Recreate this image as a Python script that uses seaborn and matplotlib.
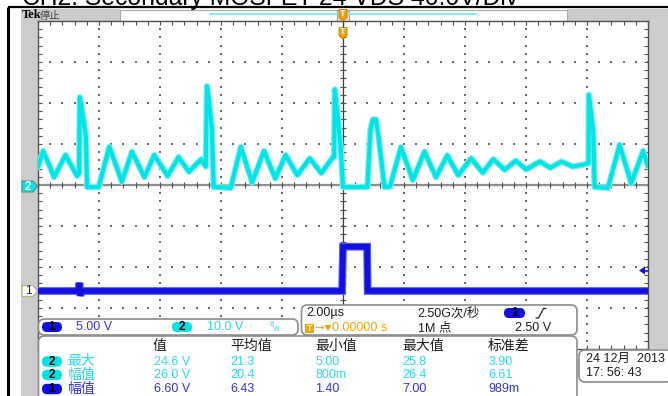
import numpy as np
import pandas as pd
import matplotlib
matplotlib.use('Agg')
import matplotlib.pyplot as plt
import seaborn as sns
from matplotlib.patches import FancyBboxPatch, Rectangle, Polygon

# ---------------- data ----------------
ch2_time_us = [-10.0, -9.83, -9.47, -9.10, -8.72, -8.65, -8.63, -8.58, -8.43, -8.39, -8.01,
               -7.66, -7.25, -6.92, -6.51, -6.19, -5.75, -5.39, -5.05, -4.65, -4.50, -4.46,
               -4.40, -4.30, -4.24, -3.68, -3.35, -2.98, -2.59, -2.22, -1.88, -1.50, -1.09,
               -0.71, -0.33, -0.29, -0.27, -0.16, -0.07, 0.0, 0.80, 0.90, 0.98, 1.08, 1.16,
               1.36, 1.54, 1.90, 2.29, 2.67, 3.05, 3.42, 3.78, 4.20, 4.58, 4.93, 5.30, 5.66,
               6.01, 6.45, 6.80, 7.16, 7.54, 7.98, 8.05, 8.06, 8.20, 8.25, 8.69, 9.07, 9.45,
               9.84, 10.0]
ch2_volts = [4.4, 8.3, 1.9, 7.3, 2.2, 2.9, 21.4, 19.5, 11.8, -0.5, -0.5,
             9.3, 0.8, 8.1, 1.9, 7.3, 2.2, 6.8, 3.2, 6.3, 4.5, 24.1,
             21.0, 14.0, -0.5, -0.7, 9.3, 0.6, 8.3, 1.6, 7.3, 2.4, 6.5,
             2.9, 6.8, 6.8, 23.3, 15.9, 8.5, -0.5, -0.5, 13.5, 16.0, 16.0, 12.0,
             -0.5, -0.4, 9.2, 1.2, 8.1, 1.9, 7.2, 2.4, 6.5, 3.0, 6.3, 3.7, 5.9,
             3.8, 5.7, 4.2, 5.7, 4.5, 5.1, 5.3, 22.0, 13.4, -0.5, -0.7, 9.8, 0.4,
             8.3, 4.5]

ch1_time_us = [-10.0, -8.68, -8.64, -8.61, -8.58, -0.03, 0.0, 0.79, 0.81, 10.0]
ch1_volts = [0.0, 0.0, 1.0, -0.6, 0.0, 0.0, 5.4, 5.4, 0.0, 0.0]

ch1_volts_per_div = 5.0
ch2_volts_per_div = 10.0

chan_labels = ['5.00 V', '10.0 V']
horiz_labels = ['2.00\u00b5s', '2.50G次/秒', '\u21920.00000 s', '1M 点', '2.50 V']
meas_headers = ['值', '平均值', '最小值', '最大值', '标准差']
meas_channels = ['2', '2', '1']
meas_names = ['最大', '幅值', '幅值']
meas_value = ['24.6 V', '26.0 V', '6.60 V']
meas_mean = ['21.3', '20.4', '6.43']
meas_min = ['5.00', '800m', '1.40']
meas_max = ['25.8', '26.4', '7.00']
meas_std = ['3.90', '6.61', '989m']
date_lines = ['24 12月  2013', '17: 56: 43']
title_text = 'CH2: Secondary MOSFET 24 VDS 40.0V/Div'

# ---------------- style ----------------
W, H = 668, 396
sns.set_theme(style='white')
plt.rcParams['font.family'] = ['Liberation Sans', 'Noto Sans CJK SC', 'DejaVu Sans']

CYAN = '#00E4E6'
CYAN_LT = '#86F0F2'
CYAN_T = '#2FD6E6'
BLUE = '#1010E0'
BLUE_LT = '#5A5AF0'
BLUE_T = '#3434DA'
ORANGE = '#F4A300'
GRAY = '#CCCCCC'
EDGE = '#8C8C8C'
TXT = '#1E1E1E'

fig = plt.figure(figsize=(W / 100, H / 100), dpi=100)
fig.patch.set_facecolor('white')


def frect(x0, y0, x1, y1):
    return [x0 / W, 1 - y1 / H, (x1 - x0) / W, (y1 - y0) / H]


def pix_axes(z):
    a = fig.add_axes([0, 0, 1, 1], zorder=z)
    a.set_xlim(0, W)
    a.set_ylim(H, 0)
    a.axis('off')
    a.patch.set_alpha(0)
    return a


# ---------------- background ----------------
bg = pix_axes(0)
bg.add_patch(Rectangle((21, 9), 17, H - 9, fc=GRAY, ec='none'))
bg.add_patch(Rectangle((21, 9), 99, 12, fc=GRAY, ec='none'))
bg.add_patch(Rectangle((567, 9), W - 567, 12, fc=GRAY, ec='none'))
bg.add_patch(Rectangle((648, 9), W - 648, 340, fc=GRAY, ec='none'))
bg.add_patch(Rectangle((120, 9.5), 447, 11, fc='white', ec='#A8A8A8', lw=0.8))
bg.plot([210, 477], [14.2, 14.2], color='#7FF0F4', lw=1.4, solid_capstyle='butt')
bg.plot([8, W], [7, 7], color='black', lw=1.6, solid_capstyle='butt')
bg.plot([8, 8], [7, H], color='black', lw=2.2, solid_capstyle='butt')
bg.text(22, 4.6, title_text, fontsize=17.8, color='black', va='baseline', ha='left')
bg.text(21.5, 15.5, 'Tek', fontsize=9, fontweight='bold', family='Liberation Serif',
        color='black', va='center', ha='left')
bg.text(40, 15.5, '停止', fontsize=7.5, color='#404040', va='center', ha='left',
        family=['Noto Sans CJK SC', 'DejaVu Sans'])
bg.add_patch(Rectangle((337, 9.5), 12, 11, fc='#E0E0E0', ec='#A0A0A0', lw=0.8))

# ---------------- scope grid + waveforms ----------------
ax = fig.add_axes(frect(38, 21, 648, 349), zorder=1)
ax.set_facecolor('white')

dot_x_cols = np.arange(-8, 9, 2)
dot_y_rows = np.arange(-3, 4, 1)
minor_x = np.arange(-10, 10.001, 0.4)
minor_y = np.arange(-4, 4.001, 0.2)
for xc in dot_x_cols:
    if xc != 0:
        ax.scatter(np.full_like(minor_y, xc), minor_y, s=1.3, marker='s', color='#6A6A6A',
                   linewidths=0, zorder=1)
for yr in dot_y_rows:
    if yr != 0:
        ax.scatter(minor_x, np.full_like(minor_x, yr), s=1.3, marker='s', color='#6A6A6A',
                   linewidths=0, zorder=1)
ax.axhline(0, color='#8E8E8E', lw=1.6, zorder=1.5)
ax.axvline(0, color='#3C3C3C', lw=0.9, zorder=1.5)
ax.plot(minor_x, np.zeros_like(minor_x), ls='none', marker='|', ms=5, mew=0.8,
        color='#505050', zorder=1.6)
ax.plot(np.zeros_like(minor_y), minor_y, ls='none', marker='_', ms=5, mew=0.8,
        color='#505050', zorder=1.6)

ch1_offset_div = -2.585
df1 = pd.DataFrame({'t': ch1_time_us,
                    'div': np.array(ch1_volts) / ch1_volts_per_div + ch1_offset_div})
df2 = pd.DataFrame({'t': ch2_time_us, 'div': np.array(ch2_volts) / ch2_volts_per_div})
sns.lineplot(data=df1, x='t', y='div', ax=ax, color=BLUE_LT, lw=5.6, sort=False,
             estimator=None, zorder=3, solid_joinstyle='miter')
sns.lineplot(data=df1, x='t', y='div', ax=ax, color=BLUE, lw=4.0, sort=False,
             estimator=None, zorder=3.1, solid_joinstyle='miter')
sns.lineplot(data=df2, x='t', y='div', ax=ax, color=CYAN_LT, lw=4.6, sort=False,
             estimator=None, zorder=4, solid_joinstyle='round')
sns.lineplot(data=df2, x='t', y='div', ax=ax, color=CYAN, lw=3.0, sort=False,
             estimator=None, zorder=4.1, solid_joinstyle='round')

ax.set_xlim(-10, 10)
ax.set_ylim(-4, 4)
ax.set_xlabel('')
ax.set_ylabel('')
ax.set_xticks(minor_x)
ax.set_yticks(minor_y)
ax.tick_params(direction='in', length=3, width=0.8, color='#505050', left=True, right=True,
               top=True, bottom=True, labelleft=False, labelbottom=False)
for sp in ax.spines.values():
    sp.set_color('#505050')
    sp.set_linewidth(1.0)
    sp.set_visible(True)

# ---------------- overlay: markers and panels ----------------
ov = pix_axes(2)


def rbox(x0, y0, x1, y1, r=5, fc='white', ec=EDGE, lw=1.2, z=3):
    ov.add_patch(FancyBboxPatch((x0, y0), x1 - x0, y1 - y0,
                                boxstyle=f'round,pad=0,rounding_size={r}',
                                fc=fc, ec=ec, lw=lw, zorder=z))


def pill(x0, yc, label, fc, w=20, h=10):
    rbox(x0, yc - h / 2, x0 + w, yc + h / 2, r=h / 2, fc=fc, ec='none', lw=0, z=5)
    ov.text(x0 + w / 2, yc + 0.3, label, fontsize=8.5, fontweight='bold', color='black',
            ha='center', va='center', zorder=6)


ov.add_patch(Polygon([(22, 181), (33, 181), (37.5, 186), (33, 192), (22, 192)],
                     closed=True, fc=CYAN, ec='#5A8C90', lw=0.8, zorder=4))
ov.text(28, 186.5, '2', fontsize=8.5, fontweight='bold', color='white', ha='center',
        va='center', zorder=5)
ov.add_patch(Polygon([(22, 285.5), (33, 285.5), (37.5, 291), (33, 296.5), (22, 296.5)],
                     closed=True, fc='white', ec='#B8B070', lw=0.9, zorder=4))
ov.text(28.5, 291.2, '1', fontsize=8.5, color=BLUE, ha='center', va='center', zorder=5)
ov.add_patch(Polygon([(639, 270.5), (645, 266.5), (645, 274.5)], closed=True, fc=BLUE,
                     ec='none', zorder=4))
ov.plot([644, 648], [270.5, 270.5], color=BLUE, lw=1.2, zorder=4)


def tmark(yt):
    ov.add_patch(Polygon([(339, yt), (347, yt), (347, yt + 8), (343, yt + 11.5),
                          (339, yt + 8)], closed=True, fc=ORANGE, ec='#C07800', lw=0.6,
                         zorder=5))
    ov.text(343, yt + 4.5, 'T', fontsize=6.5, fontweight='bold', color='white',
            ha='center', va='center', zorder=6)


tmark(9.5)
tmark(27.5)

rbox(38.5, 319, 298, 335, r=6)
pill(42, 327, '1', BLUE)
ov.text(76, 327.3, chan_labels[0], fontsize=9, color=BLUE_T, ha='left', va='center', zorder=6)
pill(172, 327, '2', CYAN)
ov.text(207, 327.3, chan_labels[1], fontsize=9, color=CYAN_T, ha='left', va='center', zorder=6)
ov.text(269, 324.5, 'B', fontsize=5, color=CYAN_T, ha='left', va='center', zorder=6)
ov.text(272.5, 329.5, 'W', fontsize=5, color=CYAN_T, ha='left', va='center', zorder=6)

rbox(301.5, 305, 577, 335, r=6)
ov.text(306, 313, horiz_labels[0], fontsize=9, color=TXT, ha='left', va='center', zorder=6)
ov.text(417, 313, horiz_labels[1], fontsize=9, color=TXT, ha='left', va='center', zorder=6)
pill(504, 313, '1', BLUE, w=21)
ov.plot([536, 538.5, 543.5, 546], [318, 318, 308.5, 308.5], color=TXT, lw=0.9, zorder=6)
ov.add_patch(Rectangle((305, 323.5), 9, 9, fc=ORANGE, ec='none', zorder=5))
ov.text(309.5, 328.2, 'T', fontsize=6.5, fontweight='bold', color='white', ha='center',
        va='center', zorder=6)
ov.text(314, 328, horiz_labels[2][0], fontsize=8, color=ORANGE, ha='left', va='center',
        zorder=6, family='DejaVu Sans')
ov.add_patch(Polygon([(324.5, 325), (331.5, 325), (328, 331)], closed=True, fc=ORANGE,
                     ec='none', zorder=6))
ov.text(332, 328, horiz_labels[2][1:], fontsize=9, color=ORANGE, ha='left', va='center',
        zorder=6)
ov.text(418, 328, horiz_labels[3], fontsize=9, color=TXT, ha='left', va='center', zorder=6)
ov.text(515, 328, horiz_labels[4], fontsize=9, color=TXT, ha='left', va='center', zorder=6)

rbox(38.5, 336, 577, 405, r=6)
head_x = [153, 230, 315, 402, 488]
for hx, htxt in zip(head_x, meas_headers):
    ov.text(hx, 346, htxt, fontsize=10, color=TXT, ha='left', va='center', zorder=6)
row_y = [361.5, 375, 389]
for i, ry in enumerate(row_y):
    is_c2 = meas_channels[i] == '2'
    col = CYAN_T if is_c2 else BLUE_T
    pill(42, ry, meas_channels[i], CYAN if is_c2 else BLUE, h=10.5)
    ov.text(67, ry, meas_names[i], fontsize=10, color=col, ha='left', va='center', zorder=6)
    for cx, vals in zip(head_x, [meas_value, meas_mean, meas_min, meas_max, meas_std]):
        ov.text(cx + 0.5, ry + 0.3, vals[i], fontsize=9, color=col, ha='left', va='center',
                zorder=6)

rbox(579, 350, 672, 382, r=6)
ov.text(586, 358.5, date_lines[0], fontsize=9, color=TXT, ha='left', va='center', zorder=6)
ov.text(586, 372.5, date_lines[1], fontsize=9, color=TXT, ha='left', va='center', zorder=6)

fig.savefig('out.png', dpi=100, facecolor='white')
